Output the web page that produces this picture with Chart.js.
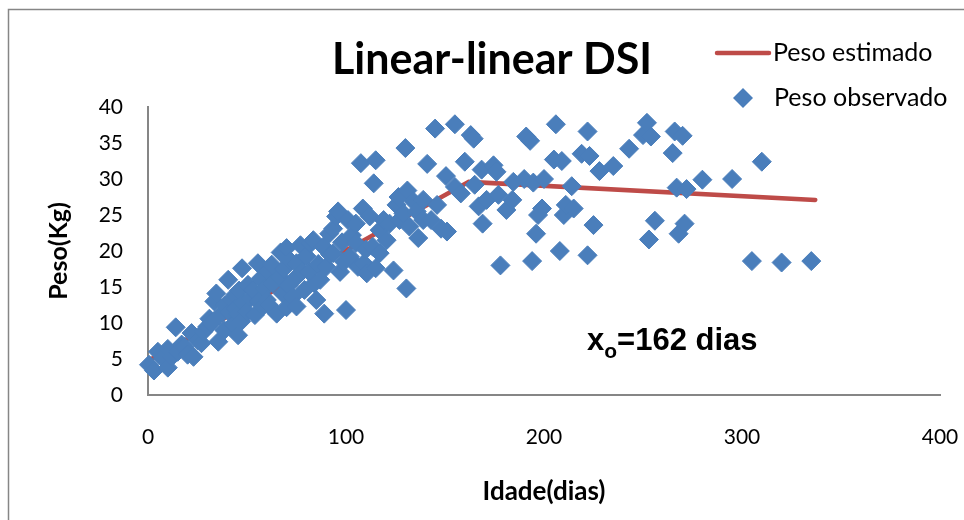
<!DOCTYPE html>
<html>
<head>
<meta charset="utf-8">
<script src="https://cdn.jsdelivr.net/npm/chart.js@4/dist/chart.umd.min.js"></script>
<style>
  body { margin: 0; background: #fff; }
  #wrap { width: 964px; height: 520px; position: relative; }
</style>
</head>
<body>
<div id="wrap"><canvas id="c"></canvas></div>
<script>
// observed weights (kg) by age (days)
const idadeObs = [
  0.5, 3, 5, 7.5, 10, 10, 12, 14, 15, 17, 18.5, 20, 22, 23, 25, 27, 28, 30, 31, 32,
  33.5, 34.5, 35.5, 36, 38.5, 39, 40.5, 41, 42.5, 43, 44, 44, 45.5, 45.5, 46, 47.5, 47, 48, 50.5, 50,
  52, 53, 54, 55.5, 56, 57, 58, 59, 60, 60.5, 61, 62.5, 63, 65, 66.5, 67, 68, 68.5, 70, 70,
  71, 72, 73, 75, 75, 75, 77, 78, 79, 80, 81.5, 82, 83.5, 84, 85, 86, 87, 88.5, 89, 90,
  91.5, 92, 93.5, 93.5, 95, 96, 97, 98, 99, 100, 101, 102, 103, 105, 105, 106, 107.5, 108.5, 109, 110.5,
  110, 112, 113.5, 114, 115, 115, 117, 117, 119, 120.5, 122, 124, 125.5, 126.5, 127, 129, 130, 130.5, 131, 132,
  134, 135.7, 136.5, 139, 139, 141, 143, 145, 146, 148, 150.5, 151, 155, 155, 158, 160, 163, 164.5, 165, 167,
  168.5, 169, 171, 174.5, 176, 177, 178, 181, 184, 184.5, 190, 191, 193, 194.6, 194, 196, 197, 199, 200, 206,
  205, 209, 210, 211, 208, 214, 215, 219, 222, 222, 223, 225, 228, 235, 243, 250, 252, 254, 253, 256,
  265, 266, 267, 268, 270, 271, 272, 280, 295, 305, 310, 320, 335
];
const pesoObs = [
  4.2, 3.4, 6.0, 5.1, 3.8, 6.4, 5.3, 9.4, 6.0, 7.0, 6.7, 5.6, 8.6, 5.3, 7.6, 7.2, 8.8, 9.5, 10.6, 10.0,
  13.0, 14.1, 7.4, 11.0, 9.0, 12.5, 16.0, 11.5, 13.2, 9.8, 13.9, 12.0, 8.3, 11.3, 14.5, 17.6, 10.2, 12.8, 15.3, 11.5,
  13.5, 14.6, 11.1, 18.3, 13.0, 16.2, 12.3, 14.8, 13.2, 17.2, 12.5, 18.1, 15.5, 11.3, 16.4, 19.8, 14.1, 17.5, 20.4, 12.2,
  15.2, 18.6, 13.6, 16.4, 12.3, 18.3, 20.8, 17.2, 14.6, 19.3, 17.1, 21.0, 21.5, 15.5, 13.2, 18.2, 16.0, 20.6, 11.3, 17.8,
  22.4, 19.5, 19.7, 23.1, 24.8, 25.5, 17.1, 21.2, 18.5, 11.8, 24.3, 19.2, 22.2, 23.8, 21.1, 17.8, 32.2, 25.9, 18.3, 16.9,
  20.2, 24.8, 20.6, 29.4, 32.6, 17.6, 22.9, 19.7, 24.3, 21.5, 23.8, 17.3, 26.4, 27.5, 24.3, 25.2, 34.3, 14.8, 28.4, 23.4,
  26.9, 25.5, 21.8, 27.1, 24.3, 32.1, 24.3, 37.0, 26.4, 23.1, 30.4, 22.7, 37.6, 28.9, 28.0, 32.4, 36.1, 35.6, 29.2, 26.2,
  31.3, 23.8, 27.1, 31.9, 31.0, 27.8, 18.0, 25.7, 27.1, 29.6, 30.0, 35.9, 35.3, 29.5, 18.6, 22.4, 25.0, 25.9, 30.0, 37.6,
  32.7, 32.5, 25.0, 26.4, 20.0, 29.0, 25.9, 33.5, 36.6, 19.4, 33.2, 23.6, 31.1, 31.8, 34.2, 36.1, 37.8, 35.9, 21.6, 24.2,
  33.6, 36.6, 28.8, 22.4, 36.0, 23.8, 28.6, 29.9, 30.0, 18.6, 32.4, 18.4, 18.6
];

// fitted linear-linear model, break point at 162 days
const idadeEst = [1, 162, 337];
const pesoEst = [4.9, 29.6, 27.1];

const xTicks = [0, 100, 200, 300, 400];

const blue = "#4a7ebb";
const red = "#be4b48";
const axisGrey = "#868686";

const observados = idadeObs.map((x, i) => ({ x: x, y: pesoObs[i] }));
const estimados = idadeEst.map((x, i) => ({ x: x, y: pesoEst[i] }));

// title, legend, frame and the x0 note are painted by hand
const decor = {
  id: "decor",
  beforeDraw(chart) {
    const ctx = chart.ctx;
    ctx.save();
    ctx.strokeStyle = axisGrey;
    ctx.lineWidth = 1.5;
    ctx.strokeRect(8.5, 9.5, 2000, 2000);
    ctx.restore();
  },
  afterDraw(chart) {
    const ctx = chart.ctx;
    ctx.save();
    ctx.fillStyle = "#000";

    ctx.font = "bold 43px Lato";
    ctx.textAlign = "center";
    ctx.textBaseline = "alphabetic";
    ctx.fillText("Linear-linear DSI", 492, 74);

    // legend
    ctx.strokeStyle = red;
    ctx.lineWidth = 4.5;
    ctx.lineCap = "round";
    ctx.beginPath();
    ctx.moveTo(717, 53);
    ctx.lineTo(769, 53);
    ctx.stroke();

    ctx.fillStyle = blue;
    ctx.beginPath();
    ctx.moveTo(743, 88);
    ctx.lineTo(753, 98);
    ctx.lineTo(743, 108);
    ctx.lineTo(733, 98);
    ctx.closePath();
    ctx.fill();

    ctx.fillStyle = "#000";
    ctx.font = "25px Lato";
    ctx.textAlign = "left";
    ctx.textBaseline = "middle";
    ctx.fillText("Peso estimado", 773, 53);
    ctx.fillText("Peso observado", 774, 98);

    // x0 note
    ctx.textBaseline = "alphabetic";
    ctx.font = "bold 31px 'Liberation Sans'";
    ctx.fillText("x", 587, 350);
    let w = ctx.measureText("x").width;
    ctx.font = "bold 21px 'Liberation Sans'";
    ctx.fillText("o", 587 + w, 358);
    w += ctx.measureText("o").width;
    ctx.font = "bold 31px 'Liberation Sans'";
    ctx.fillText("=162 dias", 587 + w, 350);
    ctx.restore();
  }
};

new Chart(document.getElementById("c"), {
  type: "scatter",
  data: {
    datasets: [
      {
        label: "Peso observado",
        data: observados,
        pointStyle: "rectRot",
        pointRadius: 9.5,
        pointHoverRadius: 9.5,
        pointBorderWidth: 1,
        backgroundColor: blue,
        borderColor: blue,
        clip: false
      },
      {
        type: "line",
        label: "Peso estimado",
        data: estimados,
        borderColor: red,
        borderWidth: 4.5,
        pointRadius: 0,
        fill: false,
        tension: 0,
        borderCapStyle: "round"
      }
    ]
  },
  options: {
    responsive: true,
    maintainAspectRatio: false,
    animation: false,
    events: [],
    layout: { padding: { top: 107, right: 24, left: 0, bottom: 0 } },
    plugins: {
      legend: { display: false },
      title: { display: false },
      tooltip: { enabled: false }
    },
    scales: {
      x: {
        type: "linear",
        min: 0,
        max: 400,
        afterFit(scale) { scale.height = 125; },
        afterBuildTicks(scale) { scale.ticks = xTicks.map(v => ({ value: v })); },
        // invisible tick marks only push the labels down
        grid: { display: false, drawTicks: true, tickLength: 28 },
        border: { display: true, color: axisGrey, width: 2 },
        ticks: { padding: 2, color: "#000", font: { family: "Lato", size: 21 } },
        title: {
          display: true,
          text: "Idade(dias)",
          color: "#000",
          font: { family: "Lato", size: 26, weight: "bold" },
          padding: { top: 0, bottom: 13 }
        }
      },
      y: {
        type: "linear",
        min: 0,
        max: 40,
        afterFit(scale) { scale.width = 148; },
        grid: { display: false, drawTicks: false },
        border: { display: true, color: axisGrey, width: 2 },
        ticks: { stepSize: 5, padding: 25, color: "#000", font: { family: "Lato", size: 21 } },
        title: {
          display: true,
          text: "Peso(Kg)",
          color: "#000",
          font: { family: "Lato", size: 25, weight: "bold" },
          padding: { top: 44, bottom: 0 }
        }
      }
    }
  },
  plugins: [decor]
});
</script>
</body>
</html>
